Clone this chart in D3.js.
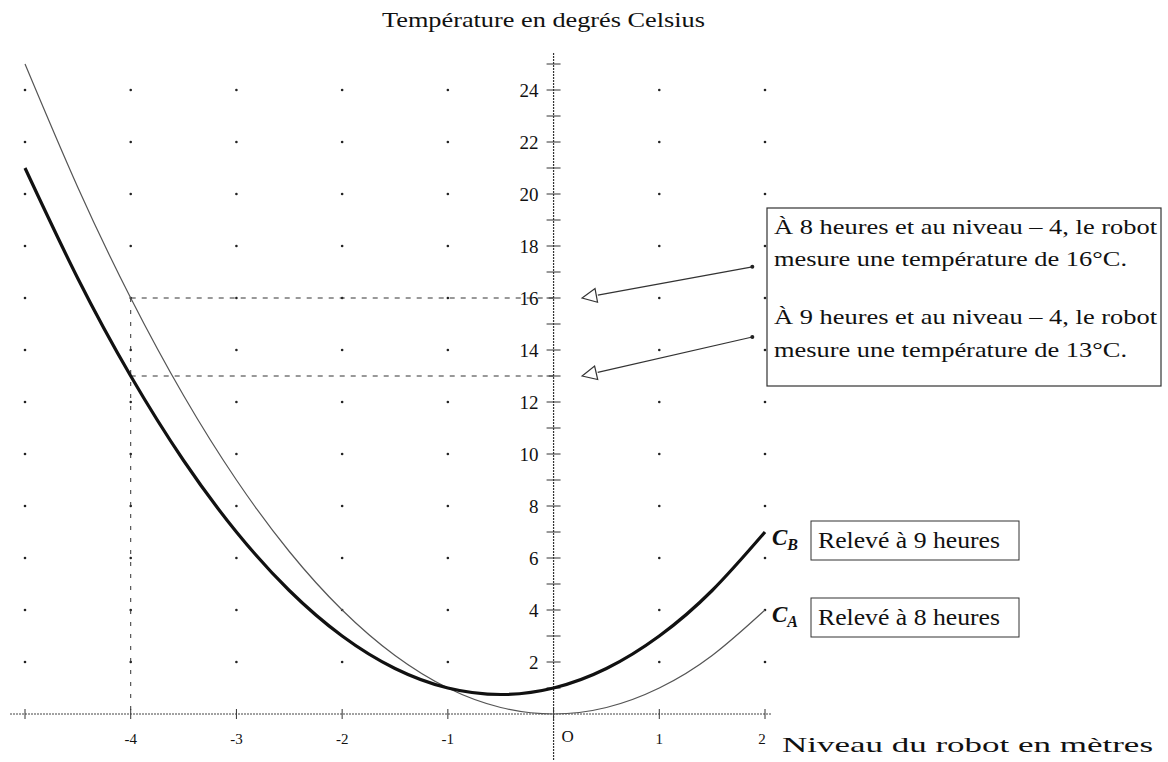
<!DOCTYPE html>
<html>
<head>
<meta charset="utf-8">
<script src="https://cdn.jsdelivr.net/npm/d3@7"></script>
<style>
  body { margin: 0; background: #fff; }
  svg { display: block; }
  text { font-family: "Liberation Serif", "DejaVu Serif", serif; fill: #111; }
</style>
</head>
<body>
<svg width="1168" height="762"></svg>
<script>
// curve values (level in m, temperature in °C)
var levels = [-5, -4.5, -4, -3.5, -3, -2.5, -2, -1.5, -1, -0.5, 0, 0.5, 1, 1.5, 2];
var tempA = [25, 20.25, 16, 12.25, 9, 6.25, 4, 2.25, 1, 0.25, 0, 0.25, 1, 2.25, 4];    // 8 heures
var tempB = [21, 16.75, 13, 9.75, 7, 4.75, 3, 1.75, 1, 0.75, 1, 1.75, 3, 4.75, 7];     // 9 heures
var xTicks = [-4, -3, -2, -1, 1, 2];
var yTicks = [2, 4, 6, 8, 10, 12, 14, 16, 18, 20, 22, 24];
var gridX = [-5, -4, -3, -2, -1, 1, 2];
var marked = [{x: -4, y: 16}, {x: -4, y: 13}];

var svg = d3.select("svg");

var x = d3.scaleLinear().domain([-5, 2]).range([25, 765]);
var y = d3.scaleLinear().domain([0, 24]).range([714, 90]);

// dotted grid
gridX.forEach(function(gx) {
    yTicks.forEach(function(gy) {
        svg.append("circle")
            .attr("cx", x(gx)).attr("cy", y(gy))
            .attr("r", 1.3).attr("fill", "#222");
    });
});

// x axis
svg.append("line")
    .attr("x1", 10).attr("x2", x(2) + 6)
    .attr("y1", y(0)).attr("y2", y(0))
    .attr("stroke", "#444").attr("stroke-width", 1)
    .attr("stroke-dasharray", "2,1");

svg.selectAll(".xtick").data([-5, -4, -3, -2, -1, 0, 1, 2]).enter()
    .append("line")
    .attr("x1", function(d) { return x(d); }).attr("x2", function(d) { return x(d); })
    .attr("y1", y(0) - 5).attr("y2", y(0) + 5)
    .attr("stroke", "#333");

svg.selectAll(".xlab").data(xTicks).enter()
    .append("text")
    .attr("x", function(d) { return d === 2 ? x(d) - 3 : x(d); })
    .attr("y", y(0) + 30)
    .attr("text-anchor", "middle")
    .attr("font-size", 15)
    .attr("fill", "#333")
    .text(function(d) { return d; });

svg.append("text")
    .attr("x", x(0) + 14).attr("y", y(0) + 28)
    .attr("text-anchor", "middle").attr("font-size", 17)
    .text("O");

// y axis
svg.append("line")
    .attr("x1", x(0)).attr("x2", x(0))
    .attr("y1", 53).attr("y2", 760)
    .attr("stroke", "#333").attr("stroke-width", 1.2)
    .attr("stroke-dasharray", "2,1");

svg.selectAll(".ytick").data(d3.range(1, 26)).enter()
    .append("line")
    .attr("x1", x(0) - 7).attr("x2", x(0) + 7)
    .attr("y1", function(d) { return y(d); }).attr("y2", function(d) { return y(d); })
    .attr("stroke", "#333");

svg.selectAll(".ylab").data(yTicks).enter()
    .append("text")
    .attr("x", x(0) - 15)
    .attr("y", function(d) { return y(d) + 6.5; })
    .attr("text-anchor", "end")
    .attr("font-size", 19)
    .text(function(d) { return d; });

// reading lines at level -4
marked.forEach(function(m) {
    svg.append("line")
        .attr("x1", x(m.x)).attr("x2", x(0))
        .attr("y1", y(m.y)).attr("y2", y(m.y))
        .attr("stroke", "#333").attr("stroke-dasharray", "5,6");
});
svg.append("line")
    .attr("x1", x(-4)).attr("x2", x(-4))
    .attr("y1", y(16)).attr("y2", y(0))
    .attr("stroke", "#333").attr("stroke-dasharray", "4,8");

// curves
var ptsA = levels.map(function(l, i) { return [l, tempA[i]]; });
var ptsB = levels.map(function(l, i) { return [l, tempB[i]]; });
var line = d3.line()
    .x(function(d) { return x(d[0]); })
    .y(function(d) { return y(d[1]); })
    .curve(d3.curveNatural);

svg.append("path").datum(ptsA)
    .attr("d", line).attr("fill", "none")
    .attr("stroke", "#555").attr("stroke-width", 1.2);
svg.append("path").datum(ptsB)
    .attr("d", line).attr("fill", "none")
    .attr("stroke", "#111").attr("stroke-width", 3.2);

// annotation box
svg.append("rect")
    .attr("x", 767).attr("y", 208).attr("width", 394).attr("height", 178)
    .attr("fill", "none").attr("stroke", "#333").attr("stroke-width", 1.2);

var boxLines = [
    {t: "À 8 heures et au niveau – 4, le robot", yy: 234, w: 383},
    {t: "mesure une température de 16°C.", yy: 266, w: 353},
    {t: "À 9 heures et au niveau – 4, le robot", yy: 324, w: 383},
    {t: "mesure une température de 13°C.", yy: 357, w: 353}
];
boxLines.forEach(function(b) {
    svg.append("text")
        .attr("x", 774).attr("y", b.yy)
        .attr("font-size", 21)
        .attr("textLength", b.w).attr("lengthAdjust", "spacingAndGlyphs")
        .text(b.t);
});

// arrows pointing to the readings on the y axis
var arrows = [
    {from: [1.88, 17.2], to: [0.27, 16]},
    {from: [1.88, 14.5], to: [0.27, 13]}
];
arrows.forEach(function(a) {
    var x1 = x(a.from[0]), y1 = y(a.from[1]), x2 = x(a.to[0]), y2 = y(a.to[1]);
    var ang = Math.atan2(y2 - y1, x2 - x1);
    var len = 16, half = 0.45;
    var bx = x2 - len * Math.cos(ang), by = y2 - len * Math.sin(ang);
    svg.append("line")
        .attr("x1", x1).attr("y1", y1).attr("x2", bx).attr("y2", by)
        .attr("stroke", "#333").attr("stroke-width", 1.2);
    svg.append("circle").attr("cx", x1).attr("cy", y1).attr("r", 2).attr("fill", "#222");
    var p1 = [x2 - len * Math.cos(ang - half), y2 - len * Math.sin(ang - half)];
    var p2 = [x2 - len * Math.cos(ang + half), y2 - len * Math.sin(ang + half)];
    svg.append("path")
        .attr("d", "M" + x2 + "," + y2 + "L" + p1 + "L" + p2 + "Z")
        .attr("fill", "#fff").attr("stroke", "#333").attr("stroke-width", 1.2);
});

// legend labels
var legend = [
    {name: "B", txt: "Relevé à 9 heures", top: 521, base: 548},
    {name: "A", txt: "Relevé à 8 heures", top: 598, base: 625}
];
legend.forEach(function(l) {
    var t = svg.append("text")
        .attr("x", 772).attr("y", l.base - 3)
        .attr("font-size", 23).attr("font-style", "italic").attr("font-weight", "bold");
    t.append("tspan").text("C");
    t.append("tspan").attr("font-size", 16).attr("dy", 5).text(l.name);
    svg.append("rect")
        .attr("x", 811).attr("y", l.top).attr("width", 208).attr("height", 39)
        .attr("fill", "none").attr("stroke", "#333");
    svg.append("text")
        .attr("x", 818).attr("y", l.base)
        .attr("font-size", 23)
        .attr("textLength", 182).attr("lengthAdjust", "spacingAndGlyphs")
        .text(l.txt);
});

// titles
svg.append("text")
    .attr("x", 382).attr("y", 27)
    .attr("font-size", 21)
    .attr("textLength", 323).attr("lengthAdjust", "spacingAndGlyphs")
    .text("Température en degrés Celsius");

svg.append("text")
    .attr("x", 782).attr("y", 752)
    .attr("font-size", 22)
    .attr("textLength", 371).attr("lengthAdjust", "spacingAndGlyphs")
    .text("Niveau du robot en mètres");
</script>
</body>
</html>
